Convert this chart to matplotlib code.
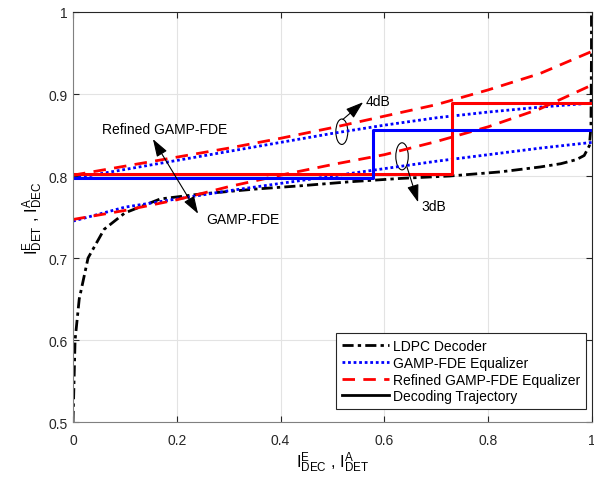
import matplotlib
matplotlib.use("Agg")
import matplotlib.pyplot as plt
from matplotlib.patches import Ellipse

plt.rcParams['font.family'] = ['Liberation Sans', 'DejaVu Sans']
plt.rcParams['mathtext.fontset'] = 'custom'
plt.rcParams['mathtext.rm'] = 'Liberation Sans'
plt.rcParams['mathtext.it'] = 'Liberation Sans'

# LDPC decoder EXIT curve (x = I_DEC^E, y = I_DEC^A)
ldpc_x = [0, 0.002, 0.004, 0.012, 0.029, 0.06, 0.1, 0.168, 0.245, 0.35, 0.437,
          0.534, 0.63, 0.726, 0.823, 0.9, 0.94, 0.97, 0.985, 0.995, 0.998, 0.999, 0.999]
ldpc_y = [0.5, 0.55, 0.6, 0.65, 0.7, 0.735, 0.755, 0.772, 0.778, 0.784, 0.788,
          0.793, 0.797, 0.8, 0.805, 0.811, 0.815, 0.82, 0.825, 0.837, 0.86, 0.95, 1.0]

# equalizer curves
eq_x = [0, 0.1, 0.2, 0.3, 0.4, 0.5, 0.6, 0.7, 0.8, 0.9, 1.0]
gamp_3db = [0.745, 0.762, 0.772, 0.782, 0.791, 0.80, 0.809, 0.818, 0.826, 0.834, 0.841]
gamp_4db = [0.797, 0.808, 0.819, 0.83, 0.841, 0.852, 0.862, 0.871, 0.878, 0.884, 0.889]
ref_3db = [0.747, 0.758, 0.771, 0.787, 0.801, 0.814, 0.826, 0.842, 0.86, 0.882, 0.911]
ref_4db = [0.801, 0.812, 0.823, 0.834, 0.846, 0.859, 0.873, 0.887, 0.905, 0.925, 0.952]

# decoding trajectories
traj_gamp_x = [0, 0.578, 0.578, 1.0]
traj_gamp_y = [0.797, 0.797, 0.856, 0.856]
traj_ref_x = [0, 0.730, 0.730, 1.0]
traj_ref_y = [0.802, 0.802, 0.889, 0.889]

fig = plt.figure(figsize=(5.94, 4.85), dpi=100)
ax = fig.add_axes([0.1229, 0.1278, 0.8737, 0.8454])

ax.plot(ldpc_x, ldpc_y, color='black', lw=2, dashes=(4, 1.5, 1.2, 1.5), label='LDPC Decoder')
l1, = ax.plot(eq_x, gamp_3db, color='blue', lw=2, dashes=(1, 1), label='GAMP-FDE Equalizer')
ax.plot(eq_x, gamp_4db, color='blue', lw=2, dashes=(1, 1))
l2, = ax.plot(eq_x, ref_3db, color='red', lw=2, dashes=(4.5, 3), label='Refined GAMP-FDE Equalizer')
ax.plot(eq_x, ref_4db, color='red', lw=2, dashes=(4.5, 3))
ax.plot(traj_ref_x, traj_ref_y, color='red', lw=2.2)
ax.plot(traj_gamp_x, traj_gamp_y, color='blue', lw=2.2)
ax.plot([], [], color='black', lw=2, label='Decoding Trajectory')

# annotations
ax.add_patch(Ellipse((0.518, 0.854), 0.023, 0.031, fill=False, lw=0.8, color='black'))
ax.add_patch(Ellipse((0.634, 0.824), 0.024, 0.033, fill=False, lw=0.8, color='black'))
arrow = dict(arrowstyle='-|>,head_length=0.9,head_width=0.3', color='black', lw=0.8,
             mutation_scale=12, shrinkA=0, shrinkB=0)
ax.annotate('', xy=(0.559, 0.890), xytext=(0.520, 0.869), arrowprops=arrow)
ax.annotate('', xy=(0.665, 0.768), xytext=(0.6435, 0.811), arrowprops=arrow)
ax.annotate('', xy=(0.154, 0.845), xytext=(0.241, 0.754),
            arrowprops=dict(arrowstyle='<|-|>,head_length=0.9,head_width=0.3', color='black',
                            lw=0.8, mutation_scale=12, shrinkA=0, shrinkB=0))
ax.text(0.563, 0.8915, '4dB', fontsize=10, va='center', ha='left')
ax.text(0.672, 0.763, '3dB', fontsize=10, va='center', ha='left')
ax.text(0.177, 0.857, 'Refined GAMP-FDE', fontsize=10, va='center', ha='center')
ax.text(0.328, 0.748, 'GAMP-FDE', fontsize=10, va='center', ha='center')

ax.set_xlim(0, 1)
ax.set_ylim(0.5, 1)
ax.set_xticks([0, 0.2, 0.4, 0.6, 0.8, 1])
ax.set_xticklabels(['0', '0.2', '0.4', '0.6', '0.8', '1'])
ax.set_yticks([0.5, 0.6, 0.7, 0.8, 0.9, 1])
ax.set_yticklabels(['0.5', '0.6', '0.7', '0.8', '0.9', '1'])
ax.grid(True, color='#e3e3e3', lw=0.8)
ax.set_axisbelow(True)
ax.tick_params(direction='in', length=4, top=True, right=True, labelsize=10,
               colors='#262626', width=0.8)
ax.tick_params(axis='x', pad=8)
ax.tick_params(axis='y', pad=4)
for s in ['top', 'right']:
    ax.spines[s].set_color('#262626')
for s in ['left', 'bottom']:
    ax.spines[s].set_color('#808080')

ax.set_xlabel(r'$\mathregular{I^E_{DEC}}$ , $\mathregular{I^A_{DET}}$', fontsize=12, labelpad=2)
ax.set_ylabel(r'$\mathregular{I^E_{DET}}$ , $\mathregular{I^A_{DEC}}$', fontsize=12, labelpad=2)

leg = ax.legend(loc='lower right', bbox_to_anchor=(0.988, 0.032), borderaxespad=0,
                fontsize=10, fancybox=False, framealpha=1, edgecolor='#262626',
                handlelength=3.4, handletextpad=0.3, labelspacing=0.2, borderpad=0.4)
leg.get_frame().set_linewidth(0.8)

fig.savefig('out.png', dpi=100)
